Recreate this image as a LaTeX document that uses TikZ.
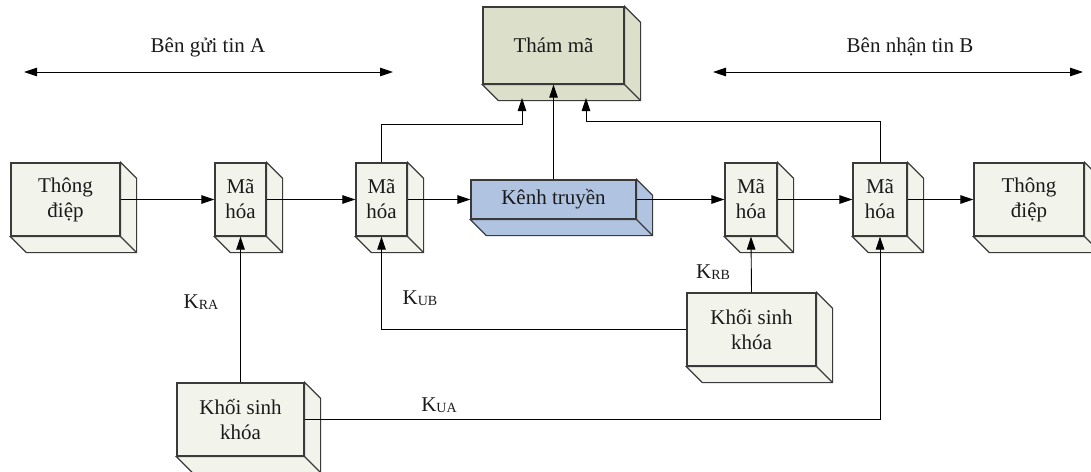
\documentclass[tikz,border=0pt]{standalone}
\usepackage{fontspec}
\setmainfont{Liberation Serif}
\usetikzlibrary{arrows.meta}

\definecolor{boxfill}{HTML}{F2F4EC}
\definecolor{attackfill}{HTML}{DCDFC9}
\definecolor{chanfill}{HTML}{B0C4E2}
\definecolor{edgegray}{HTML}{3A3A3A}
\definecolor{ink}{HTML}{1A1A1A}

\tikzset{
  face/.style={draw=edgegray, line width=1.2pt, inner sep=0pt, align=center,
    text=ink, font=\fontsize{21}{25}\selectfont},
  extrude/.style={draw=edgegray, line width=1.2pt, line join=miter},
  link/.style={draw=black, line width=0.9pt},
  flow/.style={link, -{Triangle[length=13pt, width=8.5pt]}},
  both/.style={link, {Triangle[length=13pt, width=8.5pt]}-{Triangle[length=13pt, width=8.5pt]}},
  caption/.style={text=ink, font=\fontsize{21}{25}\selectfont, inner sep=0pt},
}

% 3-D block: name, centre x, centre y, width, height, fill, text
\newcommand\solidblock[7]{%
  \node[face, fill=#6, minimum width=#4pt, minimum height=#5pt] (#1) at (#2,#3) {#7};
  \draw[extrude, fill=#6] (#1.north east) -- ++(16,16)
    |- ([shift={(16,16)}]#1.south west) -- (#1.south west)
    -- (#1.south east) -- cycle;
  \draw[extrude] (#1.south east) -- ++(16,16);
}
\newcommand\keylabel[2]{K\raisebox{-1.5pt}{\fontsize{14}{14}\selectfont #2}}

\begin{document}
\begin{tikzpicture}[x=1pt, y=-1pt]
  \useasboundingbox (0,0) rectangle (1091,471);
  \clip (0,0) rectangle (1091,471);

  % blocks
  \solidblock{tm}{553.5}{45.5}{141}{77}{attackfill}{Thám mã}
  \solidblock{tdA}{65.5}{199.5}{109}{73}{boxfill}{Thông\\điệp}
  \solidblock{maA1}{240.5}{199.5}{51}{73}{boxfill}{Mã\\hóa}
  \solidblock{maA2}{381.5}{199.5}{51}{73}{boxfill}{Mã\\hóa}
  \solidblock{kt}{553.5}{199.5}{165}{39}{chanfill}{Kênh truyền}
  \solidblock{maB1}{751}{199.5}{52}{73}{boxfill}{Mã\\hóa}
  \solidblock{maB2}{880}{199.5}{54}{73}{boxfill}{Mã\\hóa}
  \solidblock{tdB}{1029}{199.5}{110}{73}{boxfill}{Thông\\điệp}
  \solidblock{ksB}{751.5}{329.5}{129}{73}{boxfill}{Khối sinh\\khóa}
  \solidblock{ksA}{240.5}{419.5}{127}{73}{boxfill}{Khối sinh\\khóa}

  % sides
  \node[caption] (sideA) at (208,47) {Bên gửi tin A};
  \node[caption] (sideB) at (910,47) {Bên nhận tin B};
  \coordinate (aL) at (24,72);
  \coordinate (aR) at (393,72);
  \coordinate (bL) at (713,72);
  \coordinate (bR) at (1083,72);
  \draw[both] (aL) -- (aR);
  \draw[both] (bL) -- (bR);

  % message path
  \draw[flow] (tdA.east) -- (maA1.west);
  \draw[flow] (maA1.east) -- (maA2.west);
  \draw[flow] (maA2.east) -- (kt.west);
  \draw[flow] (kt.east) -- (maB1.west);
  \draw[flow] (maB1.east) -- (maB2.west);
  \draw[flow] (maB2.east) -- (tdB.west);

  % interception
  \coordinate (tmL) at (522,98);
  \coordinate (tmR) at (586,98);
  \draw[flow] (maA2.north) |- (522,124) -- (tmL);
  \draw[flow] (kt.north) -- (tm.south);
  \draw[flow] (maB2.north) |- (586,121) -- (tmR);

  % keys
  \draw[flow] (ksA.north) -- (maA1.south);
  \draw[flow] (ksA.east) -| (maB2.south);
  \draw[flow] (ksB.west) -| (maA2.south);
  \draw[flow] (ksB.north) -- (maB1.south);

  \node[caption] (kRA) at (201,302) {\keylabel{K}{RA}};
  \node[caption] (kUB) at (420,298) {\keylabel{K}{UB}};
  \node[caption] (kRB) at (713,272) {\keylabel{K}{RB}};
  \node[caption] (kUA) at (439,405) {\keylabel{K}{UA}};
\end{tikzpicture}
\end{document}
